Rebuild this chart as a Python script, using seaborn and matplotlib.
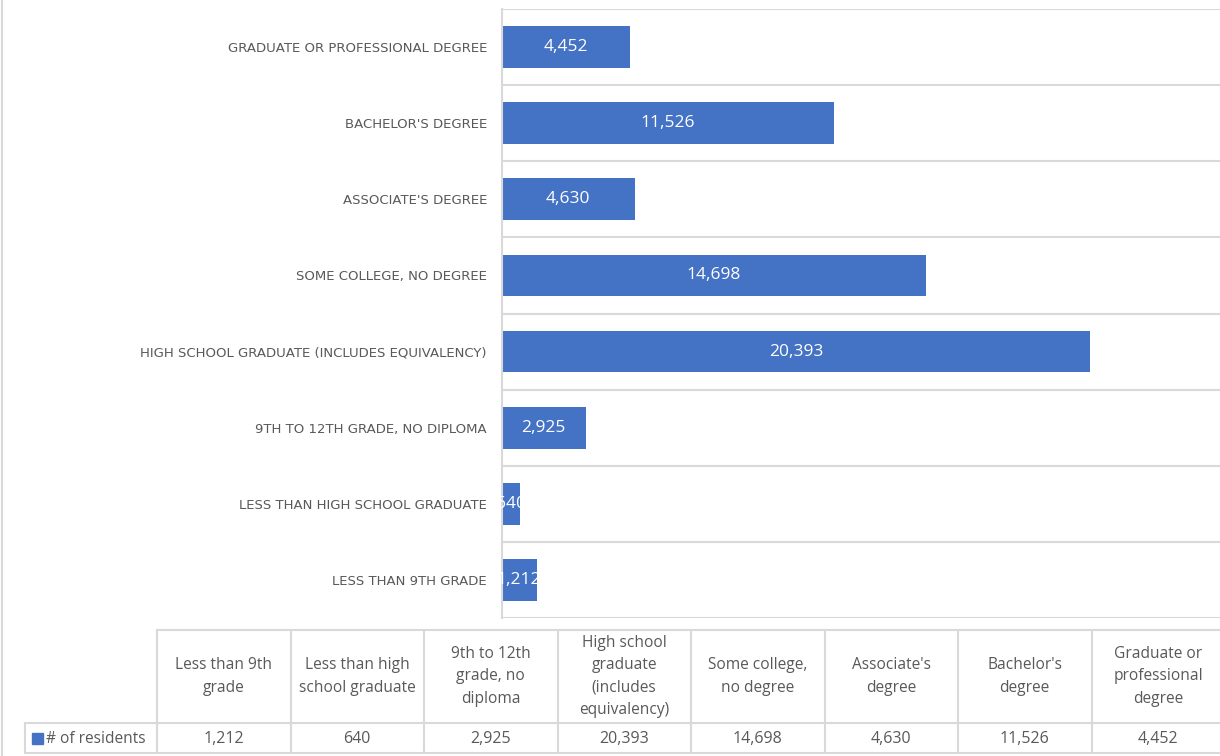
import textwrap
import numpy as np
import pandas as pd
import matplotlib
matplotlib.use("Agg")
import matplotlib.pyplot as plt
from matplotlib.lines import Line2D
from matplotlib.patches import Rectangle
import seaborn as sns

# Educational attainment of residents
categories = [
    "Less than 9th grade",
    "Less than high school graduate",
    "9th to 12th grade, no diploma",
    "High school graduate (includes equivalency)",
    "Some college, no degree",
    "Associate's degree",
    "Bachelor's degree",
    "Graduate or professional degree",
]
residents = [1212, 640, 2925, 20393, 14698, 4630, 11526, 4452]
series_name = "# of residents"

BLUE = "#4472C4"
GRID = "#D9D9D9"
TEXT = "#595959"

sns.set_theme(style="white")
plt.rcParams["font.family"] = ["Open Sans", "DejaVu Sans"]

W, H = 1220, 756
fig = plt.figure(figsize=(W / 100, H / 100), dpi=100)

# bar chart: last category on top
df = pd.DataFrame({"label": [c.upper() for c in categories], "value": residents})
order = df["label"].tolist()[::-1]

ax = fig.add_axes([501.5 / W, 1 - 618 / H, 722 / W, 609 / H])
sns.barplot(data=df, x="value", y="label", order=order, orient="h",
            color=BLUE, saturation=1, width=0.55, linewidth=0, ax=ax)
ax.set_xlim(0, 25000)
ax.set_xticks([])
ax.set_xlabel("")
ax.set_ylabel("")
for side in ("top", "right", "bottom"):
    ax.spines[side].set_visible(False)
ax.spines["left"].set_color(GRID)
ax.spines["left"].set_linewidth(1.5)
ax.set_yticks(np.arange(-0.5, len(categories)), minor=True)
ax.grid(which="minor", axis="y", color=GRID, linewidth=1.5)
ax.grid(which="major", visible=False)
ax.tick_params(axis="y", which="both", length=0)
ax.tick_params(axis="y", which="major", pad=10.5, labelsize=10, labelcolor=TEXT)
for lbl in ax.get_yticklabels():
    lbl.set_family(["DejaVu Sans"])
    lbl.set_fontsize(9.5)

vals_by_bar = [df.set_index("label").loc[lbl, "value"] for lbl in order]
ax.bar_label(ax.containers[0], labels=[f"{v:,}" for v in vals_by_bar],
             label_type="center", color="white", fontsize=12.5)

# data table underneath, laid out in pixel coordinates
tab = fig.add_axes([0, 0, 1, 1], zorder=-1)
tab.set_xlim(0, W)
tab.set_ylim(H, 0)
tab.axis("off")

def hline(x0, x1, y):
    tab.add_line(Line2D([x0, x1], [y, y], color=GRID, lw=1.5))

def vline(x, y0, y1):
    tab.add_line(Line2D([x, x], [y0, y1], color=GRID, lw=1.5))

# outer chart frame (left edge)
vline(2, 0, H)

x_first, col_w = 157, 133.5
top, mid, bot = 630, 723, 753
label_left = 25
n = len(categories)
edges = [x_first + col_w * i for i in range(n + 1)]

hline(x_first, W + 10, top)
hline(label_left, W + 10, mid)
hline(label_left, W + 10, bot)
vline(label_left, mid, bot)
for x in edges:
    vline(x, top, bot)

headers = [textwrap.fill(c, 15) for c in categories]
for i, (hdr, v) in enumerate(zip(headers, residents)):
    cx = (edges[i] + edges[i + 1]) / 2
    tab.text(cx, (top + mid) / 2, hdr, ha="center", va="center",
             fontsize=11.2, color=TEXT, linespacing=1.52)
    tab.text(cx, (mid + bot) / 2 + 1, f"{v:,}", ha="center", va="center",
             fontsize=11.5, color=TEXT)

tab.add_patch(Rectangle((32, 733), 11, 11, color=BLUE))
tab.text(46, (mid + bot) / 2 + 1, series_name, ha="left", va="center",
         fontsize=11.2, color=TEXT)

fig.savefig("out.png", dpi=100, facecolor="white")
